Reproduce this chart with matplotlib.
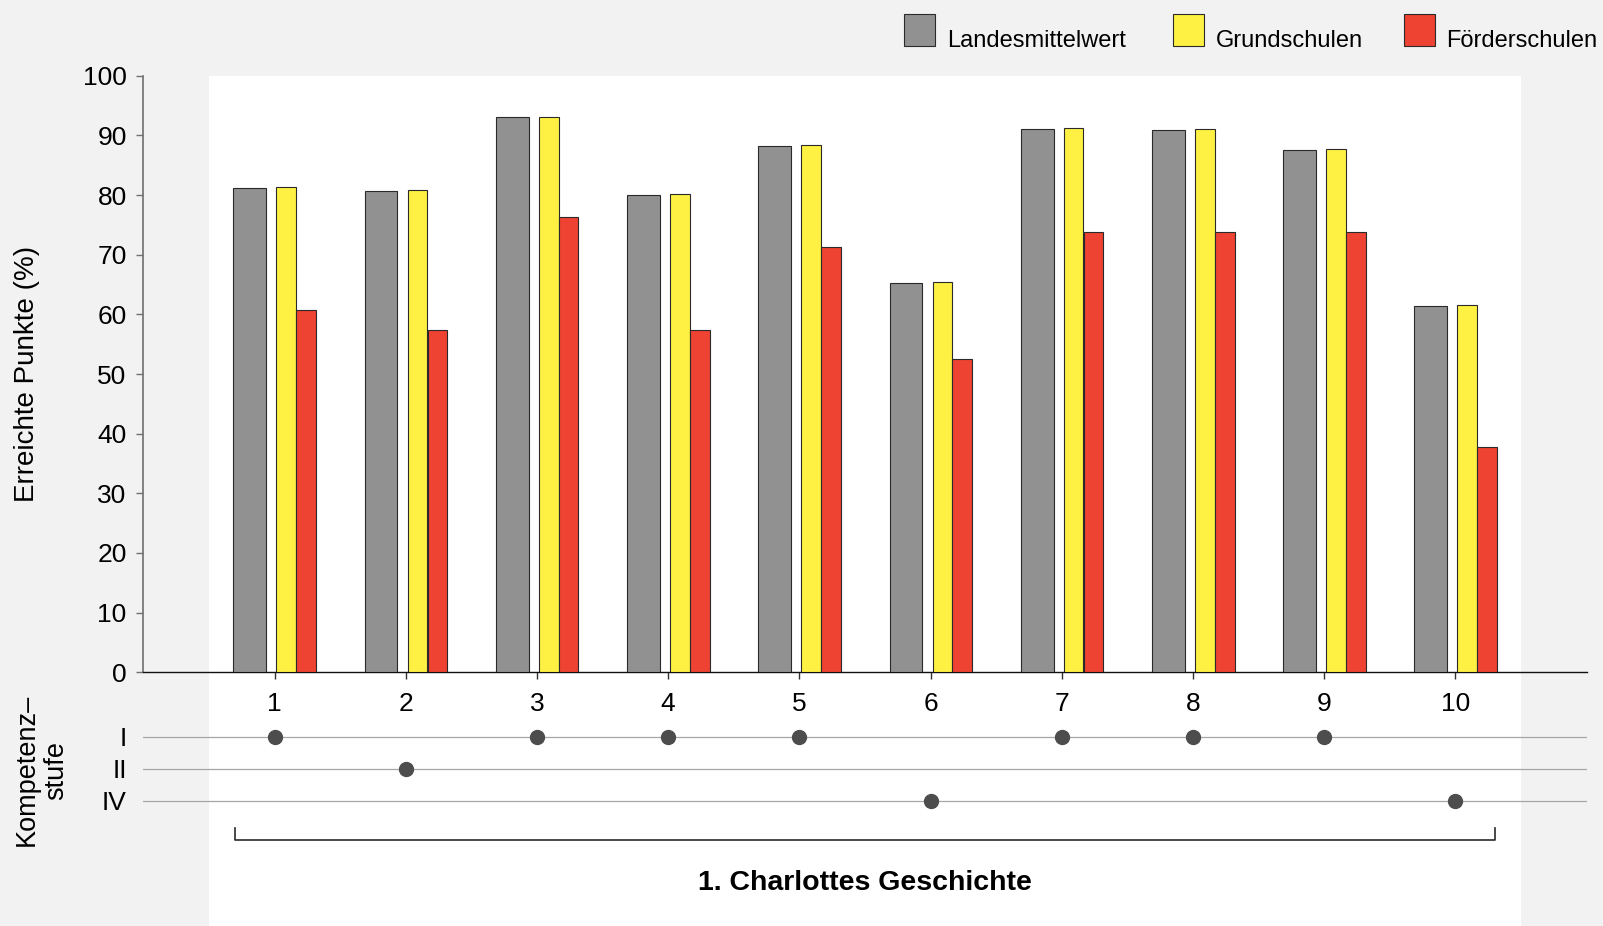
"""Erreichte Punkte je Aufgabe: Landesmittelwert, Grundschulen, Förderschulen."""

import matplotlib

matplotlib.use("Agg")
import matplotlib.pyplot as plt
import numpy as np
from matplotlib.patches import Rectangle

plt.rcParams["font.family"] = ["Liberation Sans", "DejaVu Sans"]

# ---- data ----
tasks = np.arange(1, 11)
landesmittel = [81.2, 80.7, 93.0, 80.0, 88.3, 65.3, 91.1, 90.9, 87.6, 61.4]
grundschulen = [81.4, 80.9, 93.1, 80.2, 88.4, 65.4, 91.3, 91.1, 87.7, 61.6]
foerderschulen = [60.7, 57.4, 76.3, 57.4, 71.3, 52.5, 73.8, 73.8, 73.8, 37.7]
series_names = ["Landesmittelwert", "Grundschulen", "Förderschulen"]
stufen = ["I", "II", "IV"]
task_stufe = ["I", "II", "I", "I", "I", "IV", "I", "I", "I", "IV"]
section_title = "1. Charlottes Geschichte"

GREY = "#919191"
YELLOW = "#fff143"
RED = "#ee4232"
BG = "#f2f2f2"

W, H = 1603, 926
fig = plt.figure(figsize=(W / 100, H / 100), dpi=100, facecolor=BG)


def fx(px):
    return px / W


def fy(py):
    return 1 - py / H


left, right = 143.3, 1586.7
top, bottom = 75.7, 672.3
ax = fig.add_axes([fx(left), fy(bottom), fx(right - left), (bottom - top) / H])
ax.patch.set_visible(False)

# white panel behind the bars, running down to the figure edge
ax.add_patch(
    Rectangle((0.5, -60), 10.0, 160, facecolor="white", edgecolor="none",
              zorder=0, clip_on=False)
)

edge = dict(edgecolor="#2a2a2a", linewidth=0.8, zorder=3)
ax.bar(tasks - 0.188, landesmittel, 0.25, color=GREY, **edge)
ax.bar(tasks + 0.09, grundschulen, 0.15, color=YELLOW, **edge)
ax.bar(tasks + 0.241, foerderschulen, 0.15, color=RED, **edge)

ax.set_xlim(0, 11)
ax.set_ylim(0, 100)
ax.set_yticks(np.arange(0, 101, 10))
ax.set_xticks(tasks)
ax.set_xticklabels([str(t) for t in tasks])
for s in ("top", "right"):
    ax.spines[s].set_visible(False)
ax.spines["left"].set_color("#707070")
ax.spines["left"].set_linewidth(1.2)
ax.spines["bottom"].set_color("#111111")
ax.spines["bottom"].set_linewidth(1.0)
ax.tick_params(axis="y", length=5, width=1.0, color="#707070", pad=7,
               labelsize=19)
ax.tick_params(axis="x", length=5, width=1.0, color="#333333", pad=9,
               labelsize=19)

fig.text(fx(27), fy(374), "Erreichte Punkte (%)", rotation=90,
         ha="center", va="center", fontsize=20)

# ---- Kompetenzstufen below the bars ----
row_h = 32
row0 = 736.7  # pixel row of level I
ax2 = fig.add_axes([fx(left), fy(row0 + 2.5 * row_h), fx(right - left),
                    3 * row_h / H])
ax2.patch.set_visible(False)
ax2.set_xlim(0, 11)
ax2.set_ylim(2.5, -0.5)
for sp in ax2.spines.values():
    sp.set_visible(False)
ax2.set_xticks([])
ax2.set_yticks(range(len(stufen)))
ax2.set_yticklabels(stufen)
ax2.tick_params(axis="y", length=0, pad=12, labelsize=19)

for i in range(len(stufen)):
    ax2.axhline(i, color="#a6a6a6", lw=0.9, zorder=1)
rows = [stufen.index(s) for s in task_stufe]
ax2.plot(tasks, rows, ls="none", marker="o", ms=10, color="#4d4d4d", zorder=3,
         clip_on=False)

fig.text(fx(41.5), fy(770), "Kompetenz–\nstufe", rotation=90, ha="center",
         va="center", multialignment="center", fontsize=19.5, linespacing=1.2)

# bracket grouping all tasks of the section
yb, yt = 3.23, 2.84
ax2.plot([0.7, 0.7, 10.3, 10.3], [yt, yb, yb, yt], color="#2a2a2a", lw=1.2,
         clip_on=False)
ax2.text(5.5, 4.58, section_title, ha="center", va="center", fontsize=20.5,
         fontweight="bold", clip_on=False)

# ---- legend along the top ----
legend_items = [(GREY, 903.7), (YELLOW, 1172.6), (RED, 1403.6)]
for (color, x0), name in zip(legend_items, series_names):
    fig.add_artist(
        Rectangle((fx(x0), fy(46)), fx(31.7), 31.7 / H, facecolor=color,
                  edgecolor="#2a2a2a", linewidth=0.8, transform=fig.transFigure)
    )
    fig.text(fx(x0 + 43), fy(47), name, ha="left", va="baseline", fontsize=17)

fig.savefig("out.png", dpi=100, facecolor=BG)
